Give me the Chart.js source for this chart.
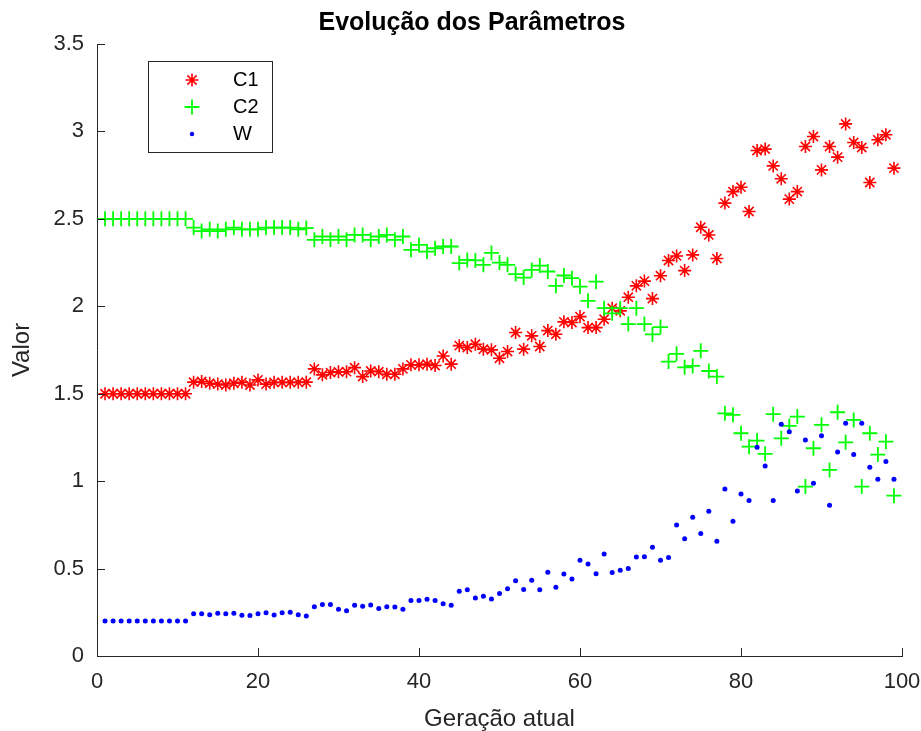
<!DOCTYPE html>
<html>
<head>
<meta charset="utf-8">
<title>Evolução dos Parâmetros</title>
<script src="https://cdn.jsdelivr.net/npm/chart.js@4/dist/chart.umd.min.js"></script>
<style>
    html, body { margin: 0; padding: 0; background: #fff; }
    #wrap { width: 921px; height: 731px; }
</style>
</head>
<body>
<div id="wrap"><canvas id="chart" width="921" height="731"></canvas></div>
<script>
// geração 1..99 (índice do eixo x)
const geracoes = Array.from({ length: 99 }, (_, i) => i + 1);

const c1 = [
    1.5, 1.5, 1.5, 1.5, 1.5, 1.5, 1.5, 1.5, 1.5, 1.5, 1.5,
    1.566, 1.57, 1.56, 1.555, 1.55, 1.56, 1.565, 1.55, 1.579, 1.555,
    1.565, 1.565, 1.565, 1.565, 1.566, 1.642, 1.608, 1.621, 1.625, 1.626,
    1.649, 1.598, 1.630, 1.626, 1.611, 1.611, 1.642, 1.665, 1.665, 1.669,
    1.661, 1.716, 1.669, 1.775, 1.764, 1.783, 1.755, 1.751, 1.703, 1.741,
    1.850, 1.755, 1.831, 1.770, 1.861, 1.840, 1.911, 1.907, 1.941, 1.878,
    1.878, 1.926, 1.989, 1.974, 2.052, 2.117, 2.144, 2.044, 2.175, 2.262,
    2.288, 2.204, 2.294, 2.452, 2.408, 2.273, 2.590, 2.656, 2.681, 2.542,
    2.891, 2.899, 2.803, 2.729, 2.613, 2.656, 2.914, 2.971, 2.780, 2.914,
    2.853, 3.043, 2.937, 2.908, 2.708, 2.952, 2.981, 2.790
];

const c2 = [
    2.5, 2.5, 2.5, 2.5, 2.5, 2.5, 2.5, 2.5, 2.5, 2.5, 2.5,
    2.45, 2.43, 2.44, 2.43, 2.44, 2.45, 2.44, 2.44, 2.44, 2.45,
    2.45, 2.45, 2.45, 2.44, 2.447, 2.380, 2.399, 2.380, 2.399, 2.380,
    2.408, 2.408, 2.380, 2.399, 2.408, 2.380, 2.399, 2.323, 2.351, 2.313,
    2.332, 2.342, 2.342, 2.247, 2.265, 2.262, 2.237, 2.305, 2.250, 2.237,
    2.184, 2.164, 2.208, 2.233, 2.199, 2.117, 2.176, 2.161, 2.113, 2.031,
    2.141, 1.989, 1.960, 1.989, 1.898, 1.989, 1.898, 1.839, 1.881, 1.684,
    1.728, 1.651, 1.659, 1.745, 1.630, 1.598, 1.388, 1.379, 1.274, 1.197,
    1.232, 1.156, 1.383, 1.245, 1.316, 1.369, 0.969, 1.188, 1.322, 1.064,
    1.394, 1.222, 1.350, 0.969, 1.274, 1.152, 1.226, 0.917
];

const w = [
    0.2, 0.2, 0.2, 0.2, 0.2, 0.2, 0.2, 0.2, 0.2, 0.2, 0.2,
    0.242, 0.242, 0.236, 0.244, 0.242, 0.244, 0.233, 0.231, 0.242, 0.248,
    0.235, 0.248, 0.250, 0.236, 0.229, 0.282, 0.294, 0.294, 0.267, 0.259,
    0.290, 0.284, 0.292, 0.271, 0.282, 0.280, 0.267, 0.317, 0.318, 0.324,
    0.318, 0.299, 0.290, 0.370, 0.379, 0.332, 0.341, 0.326, 0.357, 0.385,
    0.431, 0.381, 0.433, 0.379, 0.479, 0.393, 0.469, 0.440, 0.547, 0.526,
    0.471, 0.584, 0.477, 0.490, 0.500, 0.566, 0.568, 0.622, 0.547, 0.563,
    0.749, 0.671, 0.793, 0.700, 0.828, 0.656, 0.955, 0.770, 0.927, 0.889,
    1.194, 1.087, 0.889, 1.326, 1.283, 0.944, 1.236, 0.988, 1.259, 0.862,
    1.167, 1.331, 1.152, 1.331, 1.079, 1.011, 1.112, 1.011
];

const xTicks = [0, 20, 40, 60, 80, 100];
const yTicks = [0, 0.5, 1, 1.5, 2, 2.5, 3, 3.5];

const axisColor = '#262626';
const fontFam = '"Liberation Sans", Arial, Helvetica, sans-serif';

function pontos(vals) {
    return geracoes.map((g, i) => ({ x: g, y: vals[i] }));
}

// ticks para dentro, estilo octave
const innerTicks = {
    id: 'innerTicks',
    afterDraw(chart) {
        const ctx = chart.ctx;
        const { left, bottom } = chart.chartArea;
        const xs = chart.scales.x, ys = chart.scales.y;
        ctx.save();
        ctx.strokeStyle = axisColor;
        ctx.lineWidth = 1;
        ctx.beginPath();
        xTicks.forEach(v => {
            const px = Math.round(xs.getPixelForValue(v)) + 0.5;
            ctx.moveTo(px, bottom);
            ctx.lineTo(px, bottom - 8);
        });
        yTicks.forEach(v => {
            const py = Math.round(ys.getPixelForValue(v)) + 0.5;
            ctx.moveTo(left, py);
            ctx.lineTo(left + 8, py);
        });
        ctx.stroke();
        ctx.restore();
    }
};

// titulo e legenda desenhados à mão
const extras = {
    id: 'extras',
    afterDraw(chart) {
        const ctx = chart.ctx;
        ctx.save();
        ctx.fillStyle = '#000';
        ctx.font = 'bold 25px ' + fontFam;
        ctx.textAlign = 'center';
        ctx.textBaseline = 'middle';
        ctx.fillText('Evolução dos Parâmetros', 472, 23);

        // caixa da legenda
        ctx.fillStyle = '#fff';
        ctx.fillRect(148.5, 61.5, 124, 91);
        ctx.strokeStyle = axisColor;
        ctx.lineWidth = 1;
        ctx.strokeRect(148.5, 61.5, 124, 91);

        ctx.font = '20px ' + fontFam;
        ctx.textAlign = 'left';
        chart.data.datasets.forEach((ds, i) => {
            const y = 80 + i * 27;
            ctx.fillStyle = '#000';
            ctx.fillText(ds.label, 233, y);
            const opts = {
                pointStyle: ds.pointStyle,
                radius: ds.pointStyle === 'circle' ? 2.2 : ds.pointRadius,
                borderWidth: ds.borderWidth,
                rotation: 0
            };
            ctx.strokeStyle = ds.borderColor;
            ctx.fillStyle = ds.backgroundColor;
            ctx.lineWidth = ds.borderWidth;
            Chart.helpers.drawPoint(ctx, opts, 192, y);
        });
        ctx.restore();
    }
};

new Chart(document.querySelector('#chart').getContext('2d'), {
    type: 'scatter',
    data: {
        datasets: [
            {
                label: 'C1',
                data: pontos(c1),
                pointStyle: 'star',
                pointRadius: 6.5,
                borderWidth: 1.6,
                borderColor: '#ff0000',
                backgroundColor: '#ff0000',
                order: 3
            },
            {
                label: 'C2',
                data: pontos(c2),
                pointStyle: 'cross',
                pointRadius: 7.5,
                borderWidth: 1.8,
                borderColor: '#00ff00',
                backgroundColor: '#00ff00',
                order: 2
            },
            {
                label: 'W',
                data: pontos(w),
                pointStyle: 'circle',
                pointRadius: 2.5,
                borderWidth: 0,
                borderColor: '#0000ff',
                backgroundColor: '#0000ff',
                order: 1
            }
        ]
    },
    options: {
        responsive: false,
        animation: false,
        layout: { padding: { top: 44, right: 19, left: 0, bottom: 0 } },
        plugins: {
            legend: { display: false },
            title: { display: false },
            tooltip: { enabled: false }
        },
        scales: {
            x: {
                type: 'linear',
                min: 0,
                max: 100,
                afterFit(s) {
                    s.height = 75;
                    s.paddingLeft = 0;
                    s.paddingRight = 0;
                },
                afterBuildTicks(s) { s.ticks = xTicks.map(v => ({ value: v })); },
                grid: { drawOnChartArea: false, drawTicks: false },
                border: { display: true, color: axisColor, width: 1 },
                ticks: {
                    padding: 13,
                    color: axisColor,
                    font: { family: fontFam, size: 22 },
                    maxRotation: 0
                },
                title: {
                    display: true,
                    text: 'Geração atual',
                    color: axisColor,
                    font: { family: fontFam, size: 24 },
                    padding: { top: 0, bottom: -3 }
                }
            },
            y: {
                min: 0,
                max: 3.5,
                afterFit(s) { s.width = 97; },
                afterBuildTicks(s) { s.ticks = yTicks.map(v => ({ value: v })); },
                grid: { drawOnChartArea: false, drawTicks: false },
                border: { display: true, color: axisColor, width: 1 },
                ticks: {
                    padding: 13,
                    color: axisColor,
                    font: { family: fontFam, size: 22 },
                    callback: v => String(v)
                },
                title: {
                    display: true,
                    text: 'Valor',
                    color: axisColor,
                    font: { family: fontFam, size: 24 },
                    padding: { top: 8, bottom: 0 }
                }
            }
        }
    },
    plugins: [innerTicks, extras]
});
</script>
</body>
</html>
